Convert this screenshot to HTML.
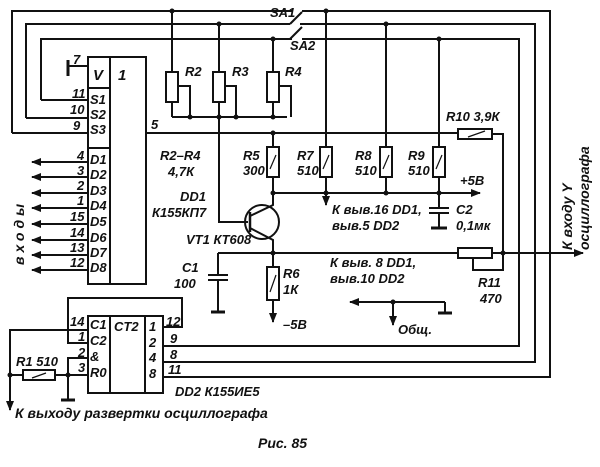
<!DOCTYPE html>
<html><head><meta charset="utf-8"><style>
html,body{margin:0;padding:0;background:#fff}
svg{display:block}
text{font-family:"Liberation Sans",sans-serif;font-style:italic;font-weight:bold;fill:#111}
</style></head><body>
<svg width="600" height="467" viewBox="0 0 600 467" xmlns="http://www.w3.org/2000/svg">
<defs><marker id="a" markerWidth="10" markerHeight="8" refX="9" refY="4" orient="auto" markerUnits="userSpaceOnUse"><path d="M0,0 L10,4 L0,8 Z" fill="#111"/></marker></defs>
<g stroke="#111" stroke-width="2" fill="none">
<polyline points="12,133 12,11 292,11"/>
<polyline points="302,11 550,11 550,377 163,377"/>
<polyline points="26,118 26,24 290,24"/>
<polyline points="300,24 535,24 535,362 163,362"/>
<polyline points="41,100 41,39 292,39"/>
<polyline points="302,39 519,39 519,346 163,346"/>
<line x1="290" y1="24" x2="302" y2="12"/>
<line x1="290" y1="39" x2="302" y2="27"/>
<polyline points="12,133 88,133"/><line x1="26" y1="118" x2="88" y2="118"/><line x1="41" y1="100" x2="88" y2="100"/>
<rect x="88" y="57" width="22" height="227"/>
<rect x="110" y="57" width="36" height="227"/>
<line x1="88" y1="88" x2="110" y2="88"/><line x1="88" y1="148" x2="110" y2="148"/>
<polyline points="88,66 68,66"/><line x1="68" y1="60" x2="68" y2="76" stroke-width="3"/>
<line x1="172" y1="11" x2="172" y2="72"/><rect x="166" y="72" width="12" height="30"/><line x1="172" y1="102" x2="172" y2="117"/>
<polyline points="178,86 190,86 190,117"/>
<line x1="219" y1="24" x2="219" y2="72"/><rect x="213" y="72" width="12" height="30"/><polyline points="219,102 219,222 248,222"/>
<polyline points="225,86 236,86 236,117"/>
<line x1="273" y1="39" x2="273" y2="72"/><rect x="267" y="72" width="12" height="30"/><line x1="273" y1="102" x2="273" y2="117"/>
<polyline points="279,86 291,86 291,117"/>
<line x1="172" y1="117" x2="287" y2="117"/>
<polyline points="146,133 458,133"/><rect x="458" y="129" width="34" height="10"/><polyline points="492,134 503,134 503,270 473,270 473,258"/>
<line x1="485" y1="131" x2="468" y2="137" stroke-width="1.2"/>
<line x1="273" y1="133" x2="273" y2="147"/><rect x="267" y="147" width="12" height="30"/><line x1="273" y1="177" x2="273" y2="193"/>
<line x1="326" y1="11" x2="326" y2="147"/><rect x="320" y="147" width="12" height="30"/><line x1="326" y1="177" x2="326" y2="205" marker-end="url(#a)"/>
<line x1="386" y1="24" x2="386" y2="147"/><rect x="380" y="147" width="12" height="30"/><line x1="386" y1="177" x2="386" y2="193"/>
<line x1="439" y1="39" x2="439" y2="147"/><rect x="433" y="147" width="12" height="30"/><line x1="439" y1="177" x2="439" y2="208"/>
<line x1="273" y1="193" x2="480" y2="193" marker-end="url(#a)"/>
<line x1="429" y1="208" x2="449" y2="208"/><line x1="429" y1="213" x2="449" y2="213"/><line x1="439" y1="213" x2="439" y2="228"/><line x1="431" y1="228" x2="447" y2="228" stroke-width="3"/>
<g stroke-width="1.2"><line x1="276" y1="155" x2="270" y2="169"/><line x1="329" y1="155" x2="323" y2="169"/><line x1="389" y1="155" x2="383" y2="169"/><line x1="442" y1="155" x2="436" y2="169"/><line x1="276" y1="275" x2="270" y2="292"/></g>
<circle cx="262" cy="222" r="17"/><line x1="250" y1="212" x2="250" y2="232" stroke-width="2.5"/>
<polyline points="250,216 273,205 273,193"/><polyline points="250,228 273,240 273,252"/>
<line x1="218" y1="253" x2="458" y2="253"/><rect x="458" y="248" width="34" height="10"/><line x1="492" y1="253" x2="583" y2="253" marker-end="url(#a)"/>
<line x1="273" y1="253" x2="273" y2="267"/><rect x="267" y="267" width="12" height="33"/><line x1="273" y1="300" x2="273" y2="322" marker-end="url(#a)"/>
<line x1="218" y1="253" x2="218" y2="275"/><line x1="208" y1="275" x2="228" y2="275"/><line x1="208" y1="280" x2="228" y2="280"/><line x1="218" y1="280" x2="218" y2="312"/><line x1="211" y1="312" x2="225" y2="312" stroke-width="3"/>
<line x1="445" y1="302" x2="350" y2="302" marker-end="url(#a)"/><line x1="438" y1="313" x2="452" y2="313" stroke-width="3"/><line x1="445" y1="302" x2="445" y2="313"/>
<line x1="393" y1="302" x2="393" y2="325" marker-end="url(#a)"/>
<g marker-end="url(#a)">
<line x1="88" y1="162" x2="32" y2="162"/><line x1="88" y1="177" x2="32" y2="177"/><line x1="88" y1="193" x2="32" y2="193"/><line x1="88" y1="208" x2="32" y2="208"/>
<line x1="88" y1="224" x2="32" y2="224"/><line x1="88" y1="240" x2="32" y2="240"/><line x1="88" y1="255" x2="32" y2="255"/><line x1="88" y1="270" x2="32" y2="270"/></g>
<rect x="88" y="316" width="22" height="77"/><rect x="110" y="316" width="35" height="77"/><rect x="145" y="316" width="18" height="77"/>
<polyline points="163,327 182,327 182,298 68,298 68,343 88,343"/><line x1="68" y1="330" x2="88" y2="330"/>
<polyline points="68,330 10,330 10,410" marker-end="url(#a)"/>
<polyline points="88,358 68,358 68,400"/><line x1="68" y1="375" x2="88" y2="375"/><line x1="61" y1="400" x2="75" y2="400" stroke-width="3"/>
<line x1="10" y1="375" x2="23" y2="375"/><rect x="23" y="370" width="32" height="10"/><line x1="55" y1="375" x2="68" y2="375"/>
<line x1="46" y1="373" x2="32" y2="378" stroke-width="1.2"/>
</g>
<g fill="#111"><circle cx="172" cy="11" r="2.5"/><circle cx="219" cy="24" r="2.5"/><circle cx="273" cy="39" r="2.5"/><circle cx="190" cy="117" r="2.5"/><circle cx="219" cy="117" r="2.5"/><circle cx="236" cy="117" r="2.5"/><circle cx="273" cy="117" r="2.5"/><circle cx="273" cy="133" r="2.5"/><circle cx="326" cy="11" r="2.5"/><circle cx="386" cy="24" r="2.5"/><circle cx="439" cy="39" r="2.5"/><circle cx="273" cy="193" r="2.5"/><circle cx="326" cy="193" r="2.5"/><circle cx="386" cy="193" r="2.5"/><circle cx="439" cy="193" r="2.5"/><circle cx="273" cy="253" r="2.5"/><circle cx="503" cy="253" r="2.5"/><circle cx="393" cy="302" r="2.5"/><circle cx="10" cy="375" r="2.5"/><circle cx="68" cy="375" r="2.5"/></g>
<g font-size="13">
<text x="270" y="17">SA1</text><text x="290" y="50">SA2</text>
<text x="93" y="80" font-size="15">V</text><text x="118" y="80" font-size="15">1</text>
<text x="73" y="64">7</text><text x="72" y="98">11</text><text x="70" y="114">10</text><text x="73" y="130">9</text>
<text x="90" y="104">S1</text><text x="90" y="119">S2</text><text x="90" y="134">S3</text><text x="151" y="129">5</text>
<text x="90" y="164">D1</text><text x="90" y="179">D2</text><text x="90" y="195">D3</text><text x="90" y="210">D4</text><text x="90" y="226">D5</text><text x="90" y="242">D6</text><text x="90" y="257">D7</text><text x="90" y="272">D8</text>
<text x="77" y="160">4</text><text x="77" y="175">3</text><text x="77" y="190">2</text><text x="77" y="205">1</text><text x="70" y="221">15</text><text x="70" y="237">14</text><text x="70" y="252">13</text><text x="70" y="267">12</text>
<text x="185" y="76">R2</text><text x="232" y="76">R3</text><text x="285" y="76">R4</text>
<text x="160" y="160">R2–R4</text><text x="168" y="176">4,7К</text><text x="180" y="201">DD1</text><text x="152" y="217">К155КП7</text>
<text x="243" y="160">R5</text><text x="243" y="175">300</text><text x="297" y="160">R7</text><text x="297" y="175">510</text><text x="355" y="160">R8</text><text x="355" y="175">510</text><text x="408" y="160">R9</text><text x="408" y="175">510</text>
<text x="446" y="121">R10 3,9К</text><text x="460" y="185">+5В</text>
<text x="332" y="214">К выв.16 DD1,</text><text x="332" y="230">выв.5 DD2</text><text x="456" y="214">C2</text><text x="456" y="230">0,1мк</text>
<text x="186" y="244">VT1 КТ608</text><text x="182" y="272">C1</text><text x="174" y="288">100</text><text x="283" y="278">R6</text><text x="283" y="294">1К</text><text x="283" y="329">–5В</text>
<text x="330" y="267">К выв. 8 DD1,</text><text x="330" y="283">выв.10 DD2</text><text x="398" y="334">Общ.</text><text x="478" y="287">R11</text><text x="480" y="303">470</text>
<text x="90" y="329">C1</text><text x="90" y="345">C2</text><text x="90" y="361">&amp;</text><text x="90" y="377">R0</text><text x="114" y="331">CT2</text>
<text x="149" y="331">1</text><text x="149" y="347">2</text><text x="149" y="362">4</text><text x="149" y="378">8</text>
<text x="70" y="326">14</text><text x="78" y="341">1</text><text x="78" y="357">2</text><text x="78" y="372">3</text>
<text x="166" y="326">12</text><text x="170" y="343">9</text><text x="170" y="359">8</text><text x="168" y="374">11</text>
<text x="16" y="366">R1 510</text><text x="175" y="396">DD2  К155ИЕ5</text>
<text x="15" y="418" font-size="14">К выходу развертки осциллографа</text>
<text x="258" y="448" font-size="14" font-style="normal">Рис. 85</text>
<text transform="translate(24,265) rotate(-90)" font-size="14" letter-spacing="4">входы</text>
<text transform="translate(572,250) rotate(-90)" font-size="14">К входу Y</text>
<text transform="translate(589,250) rotate(-90)" font-size="14">осциллографа</text>
</g>
</svg>
</body></html>
